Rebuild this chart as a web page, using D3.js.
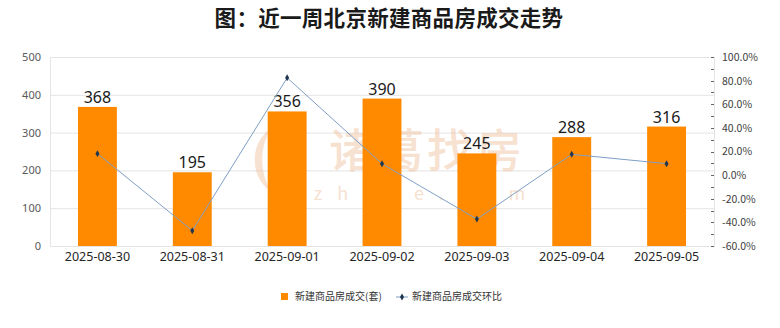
<!DOCTYPE html>
<html><head><meta charset="utf-8">
<script src="https://cdn.jsdelivr.net/npm/d3@7"></script>
<style>
body{margin:0;background:#fff;}
svg{display:block;font-family:"Noto Sans CJK SC","Noto Sans",sans-serif;}
</style></head>
<body>
<svg id="c" width="780" height="328"></svg>
<script>
const categories = ["2025-08-30","2025-08-31","2025-09-01","2025-09-02","2025-09-03","2025-09-04","2025-09-05"];
const salesValues = [368,195,356,390,245,288,316];
const ratioValues = [18.2,-47.0,82.4,9.6,-37.2,17.6,9.7];
const leftTicks = [0,100,200,300,400,500];
const rightTicks = [-60,-40,-20,0,20,40,60,80,100];
const titleText = "图：近一周北京新建商品房成交走势";
const legendLabels = ["新建商品房成交(套)","新建商品房成交环比"];

const svg = d3.select("#c");
const m = {l:50, r:714, t:57, b:246};

const x = d3.scaleBand().domain(categories).range([m.l, m.r]).paddingInner(0.59).paddingOuter(0.295);
const yL = d3.scaleLinear().domain([0,500]).range([m.b, m.t]);
const yR = d3.scaleLinear().domain([-60,100]).range([m.b, m.t]);

// title
svg.append("text").attr("x",389).attr("y",26).attr("text-anchor","middle")
  .attr("font-size",21.5).attr("font-weight",700).attr("letter-spacing",0.3).attr("fill","#1a1a1a").text(titleText);

// gridlines
svg.append("g").selectAll("line").data(leftTicks).join("line")
  .attr("x1",m.l).attr("x2",m.r).attr("y1",d=>yL(d)+0.5).attr("y2",d=>yL(d)+0.5)
  .attr("stroke","#e4e4e4");
// frame
svg.append("rect").attr("x",m.l+0.5).attr("y",m.t+0.5).attr("width",m.r-m.l).attr("height",m.b-m.t)
  .attr("fill","none").attr("stroke","#e4e4e4");

// watermark
const wm = svg.append("g").attr("opacity",0.5);
wm.append("text").attr("x",427).attr("y",167).attr("text-anchor","middle").attr("font-size",46)
  .attr("font-weight",500).attr("letter-spacing",3).attr("fill","#f0c4a2").text("诸葛找房");
wm.append("text").attr("x",427).attr("y",200).attr("text-anchor","middle").attr("font-size",18)
  .attr("letter-spacing",15).attr("fill","#f0c4a2").text("zhuge.com");
wm.append("path").attr("d","M272,128 C250,140 248,178 272,192 C260,176 258,146 272,128 Z").attr("fill","#f0c4a2");
wm.append("path").attr("d","M284,128 C306,140 308,178 284,192 C296,176 298,146 284,128 Z").attr("fill","#f0c4a2");
wm.append("path").attr("d","M278,140 C270,155 270,170 278,185 C286,170 286,155 278,140 Z").attr("fill","#f0c4a2");

// left axis
const gl = svg.append("g").attr("transform",`translate(${m.l},0)`)
  .call(d3.axisLeft(yL).tickValues(leftTicks).tickSize(0).tickPadding(9));
gl.select(".domain").remove();
gl.selectAll("text").attr("font-size",11).attr("fill","#595959").attr("font-family","'Noto Sans',sans-serif");

// right axis
const minor = d3.range(-60,101,10);
svg.append("g").selectAll("line").data(minor).join("line")
  .attr("x1",m.r-3).attr("x2",m.r).attr("y1",d=>Math.round(yR(d))+0.5).attr("y2",d=>Math.round(yR(d))+0.5)
  .attr("stroke","#666");
const gr = svg.append("g").attr("transform",`translate(${m.r},0)`)
  .call(d3.axisRight(yR).tickValues(rightTicks).tickSize(0).tickPadding(8).tickFormat(d=>d.toFixed(1)+"%"));
gr.select(".domain").remove();
gr.selectAll("text").attr("font-size",10.5).attr("fill","#404040").attr("font-family","'Noto Sans CJK SC',sans-serif");

// bars
svg.append("g").selectAll("rect").data(categories).join("rect")
  .attr("x",d=>x(d)).attr("width",x.bandwidth())
  .attr("y",(d,i)=>yL(salesValues[i])).attr("height",(d,i)=>yL(0)-yL(salesValues[i]))
  .attr("fill","#ff8a00");

// bar labels
svg.append("g").selectAll("text").data(categories).join("text")
  .attr("x",d=>x(d)+x.bandwidth()/2).attr("y",(d,i)=>yL(salesValues[i])-4)
  .attr("text-anchor","middle").attr("font-size",16).attr("fill","#1a1a1a")
  .attr("font-family","'Noto Sans',sans-serif").text((d,i)=>salesValues[i]);

// x axis labels
const gx = svg.append("g").attr("transform",`translate(0,${m.b})`)
  .call(d3.axisBottom(x).tickSize(0).tickPadding(6));
gx.select(".domain").remove();
gx.selectAll("text").attr("font-size",12.5).attr("fill","#262626").attr("font-family","'Noto Sans',sans-serif");

// line
const cx = d=>x(d)+x.bandwidth()/2;
const line = d3.line().x((d,i)=>cx(categories[i])).y(d=>yR(d));
svg.append("path").datum(ratioValues).attr("d",line).attr("fill","none")
  .attr("stroke","#7f9fc6").attr("stroke-width",1);
const diamond = d3.symbol().type(d3.symbolDiamond).size(14);
svg.append("g").selectAll("path").data(ratioValues).join("path")
  .attr("d",diamond).attr("transform",(d,i)=>`translate(${cx(categories[i])},${yR(d)})`)
  .attr("fill","#1f3550");

// legend
const lg = svg.append("g").attr("font-size",10).attr("fill","#333");
lg.append("rect").attr("x",281).attr("y",293).attr("width",7).attr("height",7).attr("fill","#ff8a00");
lg.append("text").attr("x",295).attr("y",300).text(legendLabels[0]);
lg.append("line").attr("x1",396).attr("x2",408).attr("y1",297).attr("y2",297).attr("stroke","#7f9fc6");
lg.append("path").attr("d",diamond).attr("transform","translate(402,297)").attr("fill","#1f3550");
lg.append("text").attr("x",412).attr("y",300).text(legendLabels[1]);
</script>
</body></html>
